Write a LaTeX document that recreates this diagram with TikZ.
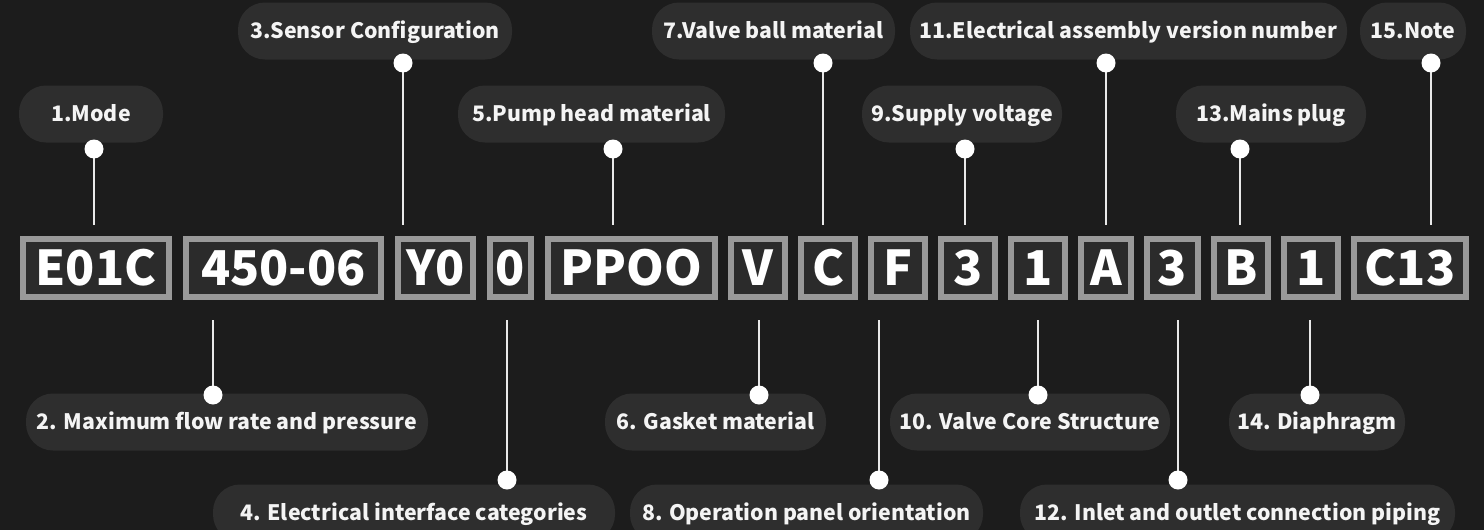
\documentclass[tikz,border=0pt]{standalone}
\usepackage{fontspec}
\setmainfont{Noto Sans CJK SC}
\usetikzlibrary{calc}
\definecolor{bg}{HTML}{1C1C1C}
\definecolor{pill}{HTML}{2E2E2E}
\definecolor{boxgray}{HTML}{999999}
\definecolor{boxin}{HTML}{2B2B2B}
\definecolor{linecol}{HTML}{E8E8E8}
\definecolor{txt}{HTML}{F4F4F4}
\tikzset{
  codebox/.style={draw=boxgray, line width=6pt, fill=boxin, inner sep=0pt,
    minimum height=58pt, text=white, font=\fontsize{48}{48}\selectfont\bfseries,
    text height=35pt, text depth=0pt},
  label/.style={fill=pill, rounded corners=27pt, inner sep=0pt, minimum height=57pt,
    text=txt, font=\fontsize{21.3}{21.3}\selectfont\bfseries, text height=15.6pt, text depth=0pt},
  conn/.style={draw=linecol, line width=2pt},
  dotc/.style={fill=white},
}
\begin{document}
\begin{tikzpicture}[x=1pt,y=-1pt]
\fill[bg] (0,0) rectangle (1484,530);
\useasboundingbox (0,0) rectangle (1484,530);
\begin{scope}
\clip (0,0) rectangle (1484,530);
% code boxes
\node[codebox, minimum width=146pt] (b1) at (96,268) {E01C};
\node[codebox, minimum width=195pt] (b2) at (283.5,268) {450-06};
\node[codebox, minimum width=75pt] (b3) at (435.5,268) {Y0};
\node[codebox, minimum width=41pt] (b4) at (510.5,268) {0};
\node[codebox, minimum width=167pt] (b5) at (631.5,268) {PPOO};
\node[codebox, minimum width=54pt] (b6) at (758,268) {V};
\node[codebox, minimum width=54pt] (b7) at (828,268) {C};
\node[codebox, minimum width=54pt] (b8) at (898,268) {F};
\node[codebox, minimum width=54pt] (b9) at (968,268) {3};
\node[codebox, minimum width=54pt] (b10) at (1038,268) {1};
\node[codebox, minimum width=50pt] (b11) at (1106,268) {A};
\node[codebox, minimum width=51pt] (b12) at (1172.5,268) {3};
\node[codebox, minimum width=54pt] (b13) at (1241,268) {B};
\node[codebox, minimum width=54pt] (b14) at (1311,268) {1};
\node[codebox, minimum width=112pt] (b15) at (1410,268) {C13};
% labels
\node[label, minimum width=274pt] (l3) at (375,31) {3.Sensor Configuration};
\node[label, minimum width=243pt] (l7) at (773.5,31) {7.Valve ball material};
\node[label, minimum width=437pt] (l11) at (1128.5,31) {11.Electrical assembly version number};
\node[label, minimum width=106pt] (l15) at (1413,31) {15.Note};
\node[label, minimum width=144pt] (l1) at (91,114) {1.Mode};
\node[label, minimum width=267pt] (l5) at (591.5,114) {5.Pump head material};
\node[label, minimum width=200pt] (l9) at (962,114) {9.Supply voltage};
\node[label, minimum width=190pt] (l13) at (1271,114) {13.Mains plug};
\node[label, minimum width=402pt] (l2) at (227,422) {2. Maximum flow rate and pressure};
\node[label, minimum width=221pt] (l6) at (715.5,422) {6. Gasket material};
\node[label, minimum width=280pt] (l10) at (1030,422) {10. Valve Core Structure};
\node[label, minimum width=176pt] (l14) at (1317,422) {14. Diaphragm};
\node[label, minimum width=402pt] (l4) at (414,513) {4. Electrical interface categories};
\node[label, minimum width=353pt] (l8) at (806.5,513) {8. Operation panel orientation};
\node[label, minimum width=435pt] (l12) at (1237.5,513) {12. Inlet and outlet connection piping};
% dot coordinates
\coordinate (d1) at (94,149);
\coordinate (d3) at (403,63);
\coordinate (d5) at (613,149);
\coordinate (d7) at (823,63);
\coordinate (d9) at (965,149);
\coordinate (d11) at (1106,63);
\coordinate (d13) at (1240,149);
\coordinate (d15) at (1431,63);
\coordinate (d2) at (213,395);
\coordinate (d6) at (759,395);
\coordinate (d10) at (1038,395);
\coordinate (d14) at (1310,395);
\coordinate (d4) at (507,480);
\coordinate (d8) at (879,480);
\coordinate (d12) at (1178,480);
% connectors above
\foreach \i in {1,3,5,7,9,11,13,15} {
  \draw[conn, shorten >=11pt] (d\i) -- (d\i |- b\i.north);
}
% connectors below
\foreach \i in {2,4,6,8,10,12,14} {
  \draw[conn, shorten <=20pt] (d\i |- b\i.south) -- (d\i);
}
\foreach \i in {1,...,15} {
  \fill[dotc] (d\i) circle (9.5pt);
}
\end{scope}
\end{tikzpicture}
\end{document}
